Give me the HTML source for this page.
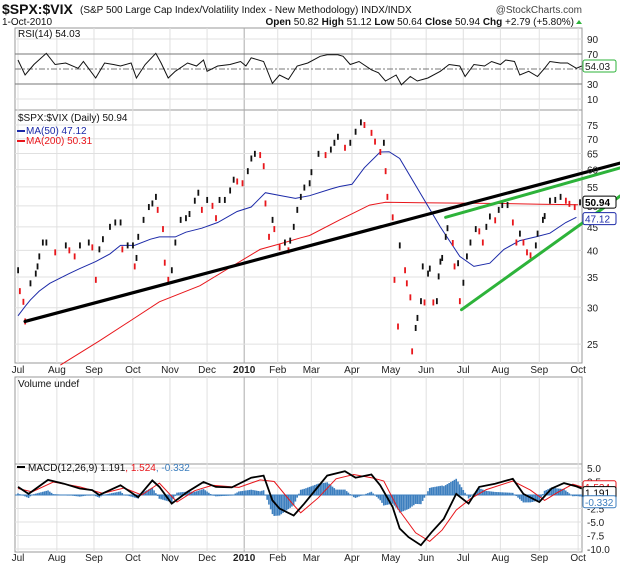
<!DOCTYPE html>
<html><head><meta charset="utf-8"><style>
body{margin:0;background:#fff;}
svg text{font-family:"Liberation Sans",sans-serif;}
</style></head><body>
<svg id="c" width="620" height="566" viewBox="0 0 620 566" xmlns="http://www.w3.org/2000/svg">
<g id="grid"></g>
<g id="marks"></g>
<g id="labels"></g>
</svg>
<script>
// ---- data ----
const months = ["Jul","Aug","Sep","Oct","Nov","Dec","2010","Feb","Mar","Apr","May","Jun","Jul","Aug","Sep","Oct"];
const monthDays = [0,22,43,65,86,107,128,147,166,189,211,231,252,273,295,317];
const priceTicks = [75,70,65,60,55,50,45,40,35,30,25];
const rsiTicks = [90,70,30,10];
const macdTicks = ["5.0","2.5","-2.5","-5.0","-7.5","-10.0"];
const macdTickVals = [5,2.5,-2.5,-5,-7.5,-10];
const closeDays = [0,1,3,4,7,10,11,12,14,16,21,27,29,32,35,40,42,44,46,48,52,55,58,59,62,65,66,67,68,71,74,76,78,79,82,83,85,87,89,92,95,97,100,102,104,107,110,112,114,117,120,122,124,127,130,132,134,137,139,140,142,144,145,148,151,153,154,156,158,160,162,165,166,170,174,177,179,181,185,188,191,194,196,200,202,205,207,208,209,212,213,215,216,219,220,222,223,225,226,228,229,230,232,233,235,237,238,239,240,242,243,246,247,249,250,252,254,256,259,261,263,265,267,270,272,274,277,280,282,284,286,288,290,293,294,297,298,301,304,307,310,312,315,318];
const closeVals = [36.2,32.6,30.9,28.0,33.9,35.6,36.9,38.8,41.6,41.6,39.6,41.0,40.0,38.8,41.0,41.6,40.6,34.5,40.2,42.3,45.0,46.0,46.0,40.2,41.0,41.0,36.9,38.5,42.8,46.6,49.7,50.6,52.3,49.0,44.5,37.6,34.5,36.2,41.6,46.6,47.0,48.0,51.3,53.4,49.0,51.5,50.0,47.0,51.5,51.5,54.0,57.0,56.5,56.0,59.5,63.4,64.9,64.5,61.0,50.6,42.8,46.6,44.5,40.6,41.6,40.0,42.0,45.0,49.0,52.3,54.8,56.0,59.2,64.9,64.5,66.3,68.6,70.7,66.9,68.6,72.5,76.0,75.0,72.1,69.0,65.5,68.6,59.5,52.3,47.2,34.5,27.3,41.0,36.2,33.9,31.6,24.1,27.1,28.5,31.0,36.9,30.8,35.6,36.5,30.8,31.0,35.1,37.8,38.5,42.8,44.7,41.5,36.9,37.5,31.0,34.0,38.8,41.6,44.5,44.0,41.6,45.0,47.4,46.5,49.0,50.2,50.2,46.0,41.6,43.5,41.6,39.6,39.0,41.0,43.5,46.6,47.5,51.3,51.5,52.3,51.3,50.5,49.7,50.9];
const ma50Days = [0,4,7,12,18,29,35,44,52,58,66,75,80,89,95,104,113,124,132,140,149,157,165,177,182,189,196,205,210,216,228,239,250,258,267,275,284,293,301,310,316];
const ma50Vals = [28.8,30.2,31.2,32.6,33.9,35.6,36.5,37.8,39.3,41.0,41.0,42.3,42.8,42.8,43.8,44.7,46.0,48.6,49.7,53.4,52.6,51.9,52.6,54.4,55.1,55.7,60.5,65.5,65.6,63.4,53.0,45.0,38.8,36.9,37.5,40.2,42.0,42.8,43.6,46.0,47.2];
const ma200Days = [24,46,63,80,103,120,137,148,160,165,182,199,208,228,250,273,296,317];
const ma200Vals = [22.5,25.4,28.0,30.9,33.5,36.7,40.2,41.3,42.6,43.1,46.6,50.2,50.9,50.8,50.7,50.6,50.4,50.3];
const rsiDays = [0,4,9,16,21,27,34,37,44,49,54,58,64,67,72,78,81,85,89,96,101,105,107,113,120,126,129,132,139,144,148,153,158,164,171,175,181,184,188,193,200,204,208,214,217,222,226,232,239,244,250,253,258,264,268,273,276,281,284,289,294,298,301,307,311,316,319];
const rsiVals = [62,42,56,71,56,58,51,60,38,58,56,54,58,38,56,71,58,38,47,58,54,62,47,54,56,60,54,65,60,31,42,36,54,58,67,69,69,67,56,60,49,45,34,42,29,40,34,38,47,56,54,40,56,54,60,56,62,60,42,47,40,51,60,58,58,51,54];
const macdDays = [0,6,17,26,35,42,46,58,68,76,80,87,96,105,112,121,132,139,144,148,156,162,169,175,185,191,200,205,212,216,221,228,234,241,248,255,261,270,280,286,295,302,309,316,319];
const macdVals = [1.5,0.2,2.8,2.1,1.2,0.9,0,1.8,-0.4,2.7,1.5,-1.6,0.6,2.4,1.5,1.4,3.2,3.6,-1,-2.5,-3.8,-1.6,1.2,3.6,4.4,3.2,3.8,1.8,-2.2,-6.2,-7.8,-9.3,-6.9,-4.4,0.2,-1.6,1.5,2.1,3.0,0.2,-1.3,1.2,2.2,1.6,1.2];
const sigDays = [0,8,20,35,48,60,70,80,90,100,110,125,137,145,155,160,170,180,190,200,207,215,225,233,240,248,256,265,280,290,298,305,314,319];
const sigVals = [1.2,0.6,2.4,1.5,0.3,1.3,0,2.2,-1.3,0.8,1.8,1.4,2.8,2.5,-1.5,-3.3,-0.5,3.0,3.8,3.2,2.6,-2.5,-7.0,-8.6,-6.5,-2.8,-0.7,1.0,2.6,0.9,-1.0,0.4,2.0,1.5];
// trendline annotations in data units [day, value]
const blackTrend = [[4,28.0],[341,62.0]];
const greenUpper = [[242,47.2],[341,60.5]];
const greenLower = [[251,29.7],[341,52.6]];

// ---- axes ----
const L=15,R=582;
const x=d=>18+d*1.767;
const yP=v=>125+199.4*Math.log(75/v);
const yR=v=>69-(v-50)*0.75;
const yM=v=>495-v*5.4;
const NS="http://www.w3.org/2000/svg";
function mk(parent,tag,attrs,txt){const e=document.createElementNS(NS,tag);for(const k in attrs)e.setAttribute(k,attrs[k]);if(txt!==undefined)e.textContent=txt;document.getElementById(parent).appendChild(e);return e;}
function interp(ds,vs,d){if(d<=ds[0])return vs[0];for(let i=1;i<ds.length;i++){if(d<=ds[i]){const t=(d-ds[i-1])/(ds[i]-ds[i-1]);return vs[i-1]+t*(vs[i]-vs[i-1]);}}return vs[vs.length-1];}
function pathOf(ds,vs,fy){return ds.map((d,i)=>(i?"L":"M")+x(d).toFixed(1)+","+fy(vs[i]).toFixed(1)).join("");}

const panels=[[28,110,"rsi-panel"],[110,363,"price-panel"],[377,464,"volume-panel"],[464,552,"macd-panel"]];
panels.forEach(p=>{
 let r=mk("grid","rect",{x:L,y:p[0],width:R-L,height:p[1]-p[0],fill:"#fff",stroke:"#999","stroke-width":1});
 
 
});
// vertical month grid
monthDays.forEach((d,i)=>{
 panels.forEach(p=>{
  let g=mk("grid","line",{x1:x(d),x2:x(d),y1:p[0],y2:p[1],stroke:months[i]==="2010"?"#aaa":"#e0e0e0","stroke-width":1});
  
  
 });
 [373,561].forEach(yy=>{
  let t=mk("labels","text",{x:x(d),y:yy,"font-size":10,"text-anchor":"middle","font-weight":months[i]==="2010"?"bold":"normal",fill:"#222"},months[i]);
  
  
 });
});
// price ticks
priceTicks.forEach(v=>{
 let g=mk("grid","line",{x1:L,x2:R,y1:yP(v),y2:yP(v),stroke:"#e0e0e0"});
 
 
 let t=mk("labels","text",{x:587,y:yP(v)+4,"font-size":10,fill:"#222"},v);
 
 
});
// rsi ticks
rsiTicks.forEach(v=>{
 let dark=(v===70||v===30);
 let g=mk("grid","line",{x1:L,x2:R,y1:yR(v),y2:yR(v),stroke:dark?"#777":"#e0e0e0"});
 
 
 let t=mk("labels","text",{x:587,y:yR(v)+4,"font-size":10,fill:"#222"},v);
 
 
});
let mid=mk("grid","line",{x1:L,x2:R,y1:yR(50),y2:yR(50),stroke:"#777","stroke-dasharray":"6,2,2,2"});


// macd ticks
macdTickVals.forEach((v,i)=>{
 let g=mk("grid","line",{x1:L,x2:R,y1:yM(v),y2:yM(v),stroke:"#e0e0e0"});
 
 
 let t=mk("labels","text",{x:587,y:yM(v)+4,"font-size":10,fill:"#222"},macdTicks[i]);
 
 
});

// RSI line
let rl=mk("marks","path",{d:pathOf(rsiDays,rsiVals,yR),fill:"none",stroke:"#111","stroke-width":1});



// MA lines
let m2=mk("marks","path",{d:pathOf(ma200Days,ma200Vals,yP),fill:"none",stroke:"#e8161b","stroke-width":1});


let m5=mk("marks","path",{d:pathOf(ma50Days,ma50Vals,yP),fill:"none",stroke:"#1c2aa8","stroke-width":1});



// price bars
closeDays.forEach((d,i)=>{
 const v=closeVals[i], prev=i?closeVals[i-1]:v;
 const down=v<prev;
 const yc=yP(v);
 let b=mk("marks","rect",{x:x(d)-0.8,y:yc-3,width:1.8,height:6,fill:down?"#e8161b":"#111"});
 
 
});

// trendlines
function trend(tl,col,w,name){
 let l=mk("marks","line",{x1:x(tl[0][0]),y1:yP(tl[0][1]),x2:x(tl[1][0]),y2:yP(tl[1][1]),stroke:col,"stroke-width":w,"stroke-linecap":"round"});
 
 
}
trend(blackTrend,"#000",3.2,"black-trendline");
trend(greenUpper,"#2db33a",3,"green-upper-trendline");
trend(greenLower,"#2db33a",3,"green-lower-trendline");

// MACD histogram
for(let d=0;d<=319;d++){
 const h=interp(macdDays,macdVals,d)-interp(sigDays,sigVals,d);
 const y0=yM(0),y1=yM(h);
 let b=mk("marks","rect",{x:x(d)-0.8,y:Math.min(y0,y1),width:1.6,height:Math.max(0.6,Math.abs(y1-y0)),fill:"#3d7fbf"});
 
 
}
let z=mk("marks","line",{x1:L,x2:R,y1:yM(0),y2:yM(0),stroke:"#3d7fbf","stroke-width":1});


let sl=mk("marks","path",{d:pathOf(sigDays,sigVals,yM),fill:"none",stroke:"#e8161b","stroke-width":1});


let ml=mk("marks","path",{d:pathOf(macdDays,macdVals,yM),fill:"none",stroke:"#000","stroke-width":1.8});



// value boxes
function box(yc,txt,col,name){
 let r=mk("labels","rect",{x:583,y:yc-6,width:33,height:12,fill:"#fff",stroke:col,"stroke-width":1,rx:2});
 
 
 let t=mk("labels","text",{x:585,y:yc+4,"font-size":10,fill:col==="#2db33a"?"#222":col,"font-weight":txt==="50.94"?"bold":"normal"},txt);
 
 
}
box(yR(54.03),"54.03","#2db33a","rsi-last");
box(yP(50.94),"50.94","#000","close-last");
box(yP(47.12)+1,"47.12","#1c2aa8","ma50-last");
box(yM(1.524),"1.524","#e8161b","signal-last");
box(yM(1.191)+4,"1.191","#000","macd-last");
box(yM(-0.332)+5,"-0.332","#3d7fbf","hist-last");
</script>
<svg width="620" height="566" style="position:absolute;left:0;top:0;pointer-events:none">
<text x="2" y="14" font-size="14" font-weight="bold" fill="#111" font-family="Liberation Sans,sans-serif">$SPX:$VIX</text>
<text x="80" y="13" font-size="10" fill="#111" font-family="Liberation Sans,sans-serif">(S&amp;P 500 Large Cap Index/Volatility Index - New Methodology)  INDX/INDX</text>
<text x="582" y="13" font-size="10" fill="#444" text-anchor="end" font-family="Liberation Sans,sans-serif">@StockCharts.com</text>
<text x="2" y="25" font-size="10" fill="#111" font-family="Liberation Sans,sans-serif">1-Oct-2010</text>
<text x="574" y="25" font-size="10" fill="#111" text-anchor="end" font-family="Liberation Sans,sans-serif"><tspan font-weight="bold">Open</tspan> 50.82 <tspan font-weight="bold">High</tspan> 51.12 <tspan font-weight="bold">Low</tspan> 50.64 <tspan font-weight="bold">Close</tspan> 50.94 <tspan font-weight="bold">Chg</tspan> +2.79 (+5.80%)</text>
<polygon points="576,24 582,24 579,20" fill="#2db33a"/>
<text x="18" y="37" font-size="10" fill="#111" font-family="Liberation Mono,monospace">RSI(14) 54.03</text>
<text x="18" y="121" font-size="10" fill="#111" font-family="Liberation Mono,monospace">$SPX:$VIX (Daily) 50.94</text>
<line x1="17" y1="131" x2="25" y2="131" stroke="#1c2aa8" stroke-width="2"/>
<text x="26" y="134" font-size="10" fill="#1c2aa8" font-family="Liberation Sans,sans-serif">MA(50) 47.12</text>
<line x1="17" y1="141" x2="25" y2="141" stroke="#e8161b" stroke-width="2"/>
<text x="26" y="144" font-size="10" fill="#e8161b" font-family="Liberation Sans,sans-serif">MA(200) 50.31</text>
<text x="18" y="387" font-size="10" fill="#111" font-family="Liberation Sans,sans-serif">Volume undef</text>
<line x1="17" y1="467" x2="25" y2="467" stroke="#000" stroke-width="2"/>
<text x="28" y="471" font-size="10" fill="#111" font-family="Liberation Sans,sans-serif">MACD(12,26,9) 1.191<tspan fill="#e8161b">, 1.524</tspan><tspan fill="#3d7fbf">, -0.332</tspan></text>
</svg>
</body></html>
